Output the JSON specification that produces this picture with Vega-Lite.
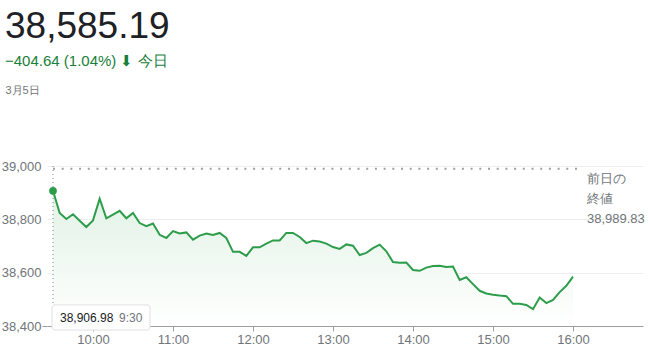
{
  "$schema": "https://vega.github.io/schema/vega-lite/v6.json",
  "width": 596,
  "height": 160,
  "autosize": {"type": "none"},
  "padding": {"left": 47, "top": 166, "right": 7, "bottom": 25},
  "background": "white",
  "config": {"view": {"stroke": null}, "font": "Arial, 'Liberation Sans', sans-serif"},
  "title": {
    "text": "38,585.19",
    "subtitle": "−404.64 (1.04%) ⬇ 今日",
    "anchor": "start",
    "frame": "group",
    "dx": -42,
    "offset": 14,
    "fontSize": 37,
    "fontWeight": "normal",
    "color": "#202124",
    "subtitleColor": "#188038",
    "subtitleFontSize": 15,
    "subtitlePadding": 8
  },
  "datasets": {
    "price": [
      {"t": "2024-03-05T09:30:00", "v": 38906.98},
      {"t": "2024-03-05T09:35:00", "v": 38824},
      {"t": "2024-03-05T09:40:00", "v": 38801},
      {"t": "2024-03-05T09:45:00", "v": 38819},
      {"t": "2024-03-05T09:50:00", "v": 38795},
      {"t": "2024-03-05T09:55:00", "v": 38771},
      {"t": "2024-03-05T10:00:00", "v": 38796},
      {"t": "2024-03-05T10:05:00", "v": 38877},
      {"t": "2024-03-05T10:10:00", "v": 38804},
      {"t": "2024-03-05T10:15:00", "v": 38818},
      {"t": "2024-03-05T10:20:00", "v": 38832},
      {"t": "2024-03-05T10:25:00", "v": 38804},
      {"t": "2024-03-05T10:30:00", "v": 38824},
      {"t": "2024-03-05T10:35:00", "v": 38786},
      {"t": "2024-03-05T10:40:00", "v": 38774},
      {"t": "2024-03-05T10:45:00", "v": 38784},
      {"t": "2024-03-05T10:50:00", "v": 38742},
      {"t": "2024-03-05T10:55:00", "v": 38730},
      {"t": "2024-03-05T11:00:00", "v": 38756},
      {"t": "2024-03-05T11:05:00", "v": 38747},
      {"t": "2024-03-05T11:10:00", "v": 38751},
      {"t": "2024-03-05T11:15:00", "v": 38724},
      {"t": "2024-03-05T11:20:00", "v": 38739},
      {"t": "2024-03-05T11:25:00", "v": 38747},
      {"t": "2024-03-05T11:30:00", "v": 38741},
      {"t": "2024-03-05T11:35:00", "v": 38749},
      {"t": "2024-03-05T11:40:00", "v": 38730},
      {"t": "2024-03-05T11:45:00", "v": 38678},
      {"t": "2024-03-05T11:50:00", "v": 38678},
      {"t": "2024-03-05T11:55:00", "v": 38663},
      {"t": "2024-03-05T12:00:00", "v": 38695},
      {"t": "2024-03-05T12:05:00", "v": 38695},
      {"t": "2024-03-05T12:10:00", "v": 38709},
      {"t": "2024-03-05T12:15:00", "v": 38721},
      {"t": "2024-03-05T12:20:00", "v": 38721},
      {"t": "2024-03-05T12:25:00", "v": 38749},
      {"t": "2024-03-05T12:30:00", "v": 38749},
      {"t": "2024-03-05T12:35:00", "v": 38734},
      {"t": "2024-03-05T12:40:00", "v": 38711},
      {"t": "2024-03-05T12:45:00", "v": 38720},
      {"t": "2024-03-05T12:50:00", "v": 38717},
      {"t": "2024-03-05T12:55:00", "v": 38709},
      {"t": "2024-03-05T13:00:00", "v": 38696},
      {"t": "2024-03-05T13:05:00", "v": 38689},
      {"t": "2024-03-05T13:10:00", "v": 38706},
      {"t": "2024-03-05T13:15:00", "v": 38701},
      {"t": "2024-03-05T13:20:00", "v": 38666},
      {"t": "2024-03-05T13:25:00", "v": 38674},
      {"t": "2024-03-05T13:30:00", "v": 38692},
      {"t": "2024-03-05T13:35:00", "v": 38705},
      {"t": "2024-03-05T13:40:00", "v": 38680},
      {"t": "2024-03-05T13:45:00", "v": 38640},
      {"t": "2024-03-05T13:50:00", "v": 38637},
      {"t": "2024-03-05T13:55:00", "v": 38638},
      {"t": "2024-03-05T14:00:00", "v": 38610},
      {"t": "2024-03-05T14:05:00", "v": 38607},
      {"t": "2024-03-05T14:10:00", "v": 38619},
      {"t": "2024-03-05T14:15:00", "v": 38625},
      {"t": "2024-03-05T14:20:00", "v": 38626},
      {"t": "2024-03-05T14:25:00", "v": 38621},
      {"t": "2024-03-05T14:30:00", "v": 38623},
      {"t": "2024-03-05T14:35:00", "v": 38573},
      {"t": "2024-03-05T14:40:00", "v": 38583},
      {"t": "2024-03-05T14:45:00", "v": 38557},
      {"t": "2024-03-05T14:50:00", "v": 38532},
      {"t": "2024-03-05T14:55:00", "v": 38522},
      {"t": "2024-03-05T15:00:00", "v": 38517},
      {"t": "2024-03-05T15:05:00", "v": 38514},
      {"t": "2024-03-05T15:10:00", "v": 38512},
      {"t": "2024-03-05T15:15:00", "v": 38483},
      {"t": "2024-03-05T15:20:00", "v": 38483},
      {"t": "2024-03-05T15:25:00", "v": 38479},
      {"t": "2024-03-05T15:30:00", "v": 38463},
      {"t": "2024-03-05T15:35:00", "v": 38507},
      {"t": "2024-03-05T15:40:00", "v": 38486},
      {"t": "2024-03-05T15:45:00", "v": 38498},
      {"t": "2024-03-05T15:50:00", "v": 38527},
      {"t": "2024-03-05T15:55:00", "v": 38551},
      {"t": "2024-03-05T16:00:00", "v": 38585.19}
    ]
  },
  "layer": [
    {
      "data": {"name": "price"},
      "mark": {
        "type": "area",
        "color": {
          "gradient": "linear",
          "x1": 0, "y1": 0, "x2": 0, "y2": 1,
          "stops": [
            {"offset": 0, "color": "#e1f2e5"},
            {"offset": 1, "color": "#ffffff"}
          ]
        }
      },
      "encoding": {
        "x": {
          "field": "t",
          "type": "temporal",
          "scale": {
            "domain": [
              {"year": 2024, "month": 3, "date": 5, "hours": 9, "minutes": 25, "seconds": 30},
              {"year": 2024, "month": 3, "date": 5, "hours": 16, "minutes": 52, "seconds": 30}
            ]
          },
          "axis": {
            "title": null,
            "format": "%-H:%M",
            "values": [
              {"year": 2024, "month": 3, "date": 5, "hours": 10},
              {"year": 2024, "month": 3, "date": 5, "hours": 11},
              {"year": 2024, "month": 3, "date": 5, "hours": 12},
              {"year": 2024, "month": 3, "date": 5, "hours": 13},
              {"year": 2024, "month": 3, "date": 5, "hours": 14},
              {"year": 2024, "month": 3, "date": 5, "hours": 15},
              {"year": 2024, "month": 3, "date": 5, "hours": 16}
            ],
            "grid": false,
            "domainColor": "#9e9e9e",
            "tickColor": "#9e9e9e",
            "tickSize": 5,
            "labelColor": "#70757a",
            "labelFontSize": 13,
            "labelPadding": 2,
            "labelFlush": false
          }
        },
        "y": {
          "field": "v",
          "type": "quantitative",
          "scale": {"domain": [38400, 39000], "zero": false, "nice": false},
          "axis": {
            "title": "3月5日",
            "titleAngle": 0,
            "titleAlign": "left",
            "titleBaseline": "top",
            "titleX": -42,
            "titleY": -82,
            "titleFontSize": 11,
            "titleFontWeight": "normal",
            "titleColor": "#70757a",
            "values": [38400, 38600, 38800, 39000],
            "format": ",.0f",
            "domain": false,
            "ticks": true,
            "tickSize": 5,
            "tickColor": {"condition": {"test": "datum.value == 38400", "value": "#9e9e9e"}, "value": "transparent"},
            "labelColor": "#70757a",
            "labelFontSize": 13,
            "labelPadding": 1,
            "grid": true,
            "gridColor": "#eeeeee"
          }
        },
        "y2": {"datum": 38400}
      }
    },
    {
      "data": {"values": [{"t": "2024-03-05T09:30:00", "t2": "2024-03-05T16:03:00", "v": 38989.83}]},
      "mark": {"type": "rule", "color": "#9aa0a6", "strokeWidth": 2, "strokeDash": [2, 6.7]},
      "encoding": {
        "x": {"field": "t", "type": "temporal"},
        "x2": {"field": "t2"},
        "y": {"field": "v", "type": "quantitative"}
      }
    },
    {
      "data": {"values": [{"t": "2024-03-05T09:30:00", "v": 39000, "v2": 38478}]},
      "mark": {"type": "rule", "color": "#80868b", "strokeWidth": 1, "strokeDash": [1, 3]},
      "encoding": {
        "x": {"field": "t", "type": "temporal"},
        "y": {"field": "v", "type": "quantitative"},
        "y2": {"field": "v2"}
      }
    },
    {
      "data": {"name": "price"},
      "mark": {"type": "line", "color": "#2e9d4b", "strokeWidth": 2},
      "encoding": {
        "x": {"field": "t", "type": "temporal"},
        "y": {"field": "v", "type": "quantitative"}
      }
    },
    {
      "data": {"values": [{"t": "2024-03-05T09:30:00", "v": 38906.98}]},
      "mark": {"type": "point", "filled": true, "color": "#2e9d4b", "size": 60, "opacity": 1},
      "encoding": {
        "x": {"field": "t", "type": "temporal"},
        "y": {"field": "v", "type": "quantitative"}
      }
    },
    {
      "data": {"values": [{"t": "2024-03-05T09:29:15", "t2": "2024-03-05T10:42:45", "v": 38479, "v2": 38385}]},
      "mark": {"type": "rect", "fill": "white", "stroke": "#e0e0e0", "strokeWidth": 1, "cornerRadius": 3},
      "encoding": {
        "x": {"field": "t", "type": "temporal"},
        "x2": {"field": "t2"},
        "y": {"field": "v", "type": "quantitative"},
        "y2": {"field": "v2"}
      }
    },
    {
      "data": {"values": [
        {"t": "2024-03-05T09:35:15", "v": 38430, "label": "38,906.98", "c": "main"},
        {"t": "2024-03-05T10:19:30", "v": 38430, "label": "9:30", "c": "sub"}
      ]},
      "mark": {"type": "text", "align": "left", "baseline": "middle", "fontSize": 12},
      "encoding": {
        "x": {"field": "t", "type": "temporal"},
        "y": {"field": "v", "type": "quantitative"},
        "text": {"field": "label"},
        "color": {"field": "c", "type": "nominal", "scale": {"domain": ["main", "sub"], "range": ["#202124", "#70757a"]}, "legend": null}
      }
    },
    {
      "data": {"values": [{"t": "2024-03-05T16:10:30", "v": 38989.83, "label": "前日の\n終値\n38,989.83"}]},
      "mark": {"type": "text", "align": "left", "baseline": "top", "dy": 4, "fontSize": 13, "lineHeight": 20, "lineBreak": "\n", "color": "#70757a"},
      "encoding": {
        "x": {"field": "t", "type": "temporal"},
        "y": {"field": "v", "type": "quantitative"},
        "text": {"field": "label"}
      }
    }
  ]
}
